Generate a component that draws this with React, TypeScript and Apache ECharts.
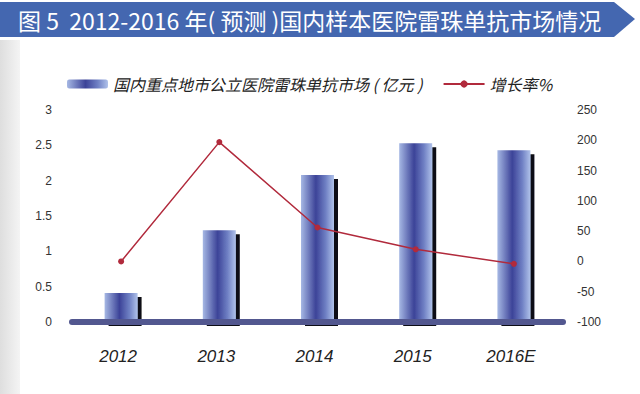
import React, { useEffect, useRef } from "react";
import * as echarts from "echarts";

const categories = ["2012", "2013", "2014", "2015", "2016E"];
const marketValues = [0.41, 1.3, 2.08, 2.53, 2.43];
const growthRates = [0, 197, 56, 20, -4];
const barName = "国内重点地市公立医院雷珠单抗市场 ( 亿元 )";
const lineName = "增长率%";
const titleText = "图 5  2012-2016 年( 预测 )国内样本医院雷珠单抗市场情况";

export default function App() {
  const ref = useRef<HTMLDivElement>(null);
  useEffect(() => {
    if (!ref.current) return;
    const chart = echarts.init(ref.current, null, { renderer: "svg" });
    const barGradient = new echarts.graphic.LinearGradient(0, 0, 1, 0, [
      { offset: 0, color: "#a6b8e4" },
      { offset: 0.45, color: "#3c4398" },
      { offset: 0.75, color: "#6f80c4" },
      { offset: 1, color: "#b0c2ea" },
    ]);
    chart.setOption({
      animation: false,
      backgroundColor: "#ffffff",
      graphic: [
        {
          type: "rect",
          shape: { x: 0, y: 40, width: 20, height: 354 },
          style: {
            fill: new echarts.graphic.LinearGradient(0, 0, 1, 0, [
              { offset: 0, color: "#dedede" },
              { offset: 1, color: "#f4f4f4" },
            ]),
          },
          silent: true,
        },
        {
          type: "polygon",
          shape: {
            points: [
              [0, 2],
              [614, 2],
              [635, 19],
              [614, 37],
              [0, 37],
            ],
          },
          style: { fill: "#4467b0" },
          silent: true,
        },
        {
          type: "text",
          x: 18,
          y: 20,
          style: {
            text: titleText,
            fill: "#ffffff",
            font: '23px "Noto Sans CJK SC", sans-serif',
            verticalAlign: "middle",
          },
          silent: true,
        },
      ],
      legend: {
        left: 62,
        top: 71,
        itemGap: 20,
        itemWidth: 41,
        itemHeight: 9,
        textStyle: {
          fontSize: 16,
          fontStyle: "italic",
          color: "#222",
          fontFamily: '"Noto Sans CJK SC", sans-serif',
        },
        data: [
          { name: barName, itemStyle: { shadowBlur: 0, shadowOffsetX: 0, shadowOffsetY: 0 } },
          { name: lineName },
        ],
      },
      grid: { left: 72, right: 77, top: 110, bottom: 72 },
      xAxis: {
        type: "category",
        data: categories,
        axisLine: { show: true, lineStyle: { color: "#52578f", width: 6 } },
        axisTick: { show: false },
        axisLabel: {
          margin: 26,
          fontSize: 17,
          fontStyle: "italic",
          color: "#222",
          fontFamily: '"Liberation Sans", Arial, sans-serif',
          padding: [0, 6, 0, 0],
        },
        z: 5,
      },
      yAxis: [
        {
          type: "value",
          min: 0,
          max: 3,
          interval: 0.5,
          splitLine: { show: false },
          axisLine: { show: false },
          axisTick: { show: false },
          axisLabel: {
            margin: 20,
            fontSize: 12,
            color: "#333",
            fontFamily: '"Liberation Sans", Arial, sans-serif',
          },
        },
        {
          type: "value",
          min: -100,
          max: 250,
          interval: 50,
          splitLine: { show: false },
          axisLine: { show: false },
          axisTick: { show: false },
          axisLabel: {
            margin: 14,
            fontSize: 12,
            color: "#333",
            fontFamily: '"Liberation Sans", Arial, sans-serif',
          },
        },
      ],
      series: [
        {
          name: barName,
          type: "bar",
          data: marketValues,
          barWidth: 33,
          itemStyle: {
            color: barGradient,
            shadowColor: "#0a0a14",
            shadowBlur: 0,
            shadowOffsetX: 4,
            shadowOffsetY: 4,
          },
          z: 2,
        },
        {
          name: lineName,
          type: "line",
          yAxisIndex: 1,
          data: growthRates,
          symbol: "circle",
          symbolSize: 6,
          lineStyle: { color: "#b12a3c", width: 1.5 },
          itemStyle: { color: "#b12a3c" },
          z: 3,
        },
      ],
    });
    return () => chart.dispose();
  }, []);
  return <div ref={ref} style={{ width: 640, height: 394, position: "absolute", left: 0, top: 0 }} />;
}
